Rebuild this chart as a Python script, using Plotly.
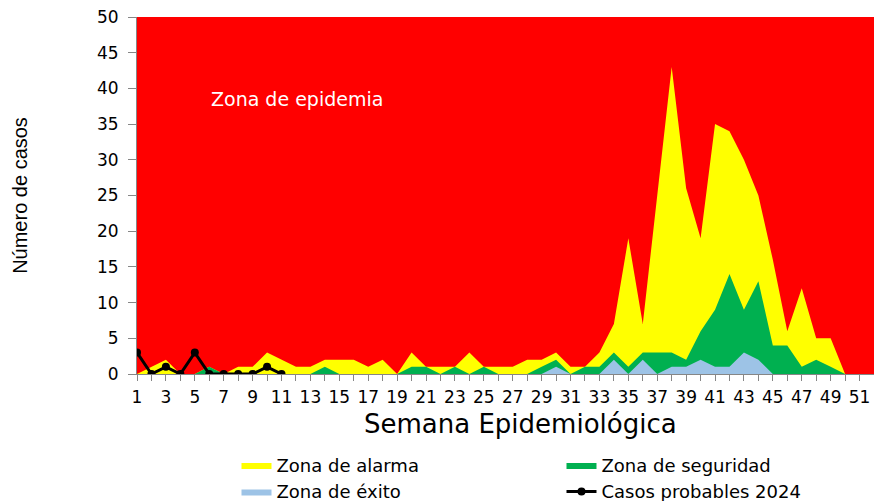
import plotly.graph_objects as go

weeks = list(range(1, 53))

epidemia = [50] * 52

alarma = [0, 1, 2, 0, 0, 1, 0, 1, 1, 3,
          2, 1, 1, 2, 2, 2, 1, 2, 0, 3,
          1, 1, 1, 3, 1, 1, 1, 2, 2, 3,
          1, 1, 3, 7, 19, 7, 25, 43, 26, 19,
          35, 34, 30, 25, 16, 6, 12, 5, 5, 0,
          0, 0]

seguridad = [0, 0, 0, 0, 0, 1, 0, 0, 0, 0,
             0, 0, 0, 1, 0, 0, 0, 0, 0, 1,
             1, 0, 1, 0, 1, 0, 0, 0, 1, 2,
             0, 1, 1, 3, 1, 3, 3, 3, 2, 6,
             9, 14, 9, 13, 4, 4, 1, 2, 1, 0,
             0, 0]

exito = [0, 0, 0, 0, 0, 0, 0, 0, 0, 0,
         0, 0, 0, 0, 0, 0, 0, 0, 0, 0,
         0, 0, 0, 0, 0, 0, 0, 0, 0, 1,
         0, 0, 0, 2, 0, 2, 0, 1, 1, 2,
         1, 1, 3, 2, 0, 0, 0, 0, 0, 0,
         0, 0]

casos_weeks = list(range(1, 12))
casos_2024 = [3, 0, 1, 0, 3, 0, 0, 0, 0, 1, 0]

x_ticks = list(range(1, 52, 2))
y_ticks = list(range(0, 51, 5))

fig = go.Figure()

fig.add_trace(go.Scatter(x=weeks, y=epidemia, mode="lines", fill="tozeroy",
                         fillcolor="#FF0000", line=dict(width=0, color="#FF0000"),
                         name="Zona de epidemia", showlegend=False, hoverinfo="skip"))
fig.add_trace(go.Scatter(x=weeks, y=alarma, mode="lines", fill="tozeroy",
                         fillcolor="#FFFF00", line=dict(width=0, color="#FFFF00"),
                         name="Zona de alarma"))
fig.add_trace(go.Scatter(x=weeks, y=seguridad, mode="lines", fill="tozeroy",
                         fillcolor="#00B050", line=dict(width=0, color="#00B050"),
                         name="Zona de seguridad"))
fig.add_trace(go.Scatter(x=weeks, y=exito, mode="lines", fill="tozeroy",
                         fillcolor="#9DC3E6", line=dict(width=0, color="#9DC3E6"),
                         name="Zona de éxito"))
fig.add_trace(go.Scatter(x=casos_weeks, y=casos_2024, mode="lines+markers",
                         line=dict(width=3, color="#000000"),
                         marker=dict(size=8, color="#000000"),
                         name="Casos probables 2024"))

fig.add_annotation(x=6.0, y=38.5, xref="x", yref="y", text="Zona de epidemia",
                   showarrow=False, xanchor="left", yanchor="middle",
                   font=dict(family="DejaVu Sans", size=19, color="#FFFFFF"))

# x-axis title (placed as in the reference, slightly right of plot centre)
fig.add_annotation(x=0.52, y=-0.14, xref="paper", yref="paper",
                   text="Semana Epidemiológica", showarrow=False,
                   xanchor="center", yanchor="middle",
                   font=dict(family="DejaVu Sans", size=26, color="#000000"))

fig.update_layout(
    width=874, height=501,
    margin=dict(l=137, r=0, t=17, b=127, autoexpand=False),
    paper_bgcolor="#FFFFFF", plot_bgcolor="#FFFFFF",
    font=dict(family="DejaVu Sans", color="#000000"),
    legend=dict(orientation="h", x=0.135, y=-0.204, xanchor="left", yanchor="top",
                entrywidth=280, entrywidthmode="pixels",
                font=dict(family="DejaVu Sans", size=18, color="#000000"),
                bgcolor="rgba(0,0,0,0)", tracegroupgap=0),
    xaxis=dict(range=[1, 52], tickvals=x_ticks, ticktext=[str(v) for v in x_ticks],
               ticks="outside", ticklen=6, tickcolor="#868686",
               minor=dict(tickvals=weeks, ticks="outside", ticklen=6, tickcolor="#868686"),
               showline=True, linecolor="#868686", linewidth=1,
               showgrid=False, zeroline=False,
               tickfont=dict(family="DejaVu Sans", size=17, color="#000000"),
               ticklabelstandoff=2),
    yaxis=dict(range=[0, 50], tickvals=y_ticks,
               ticks="outside", ticklen=8, tickcolor="#868686",
               showline=True, linecolor="#868686", linewidth=1,
               showgrid=False, zeroline=False,
               tickfont=dict(family="DejaVu Sans", size=17, color="#000000"),
               ticklabelstandoff=6,
               title=dict(text="Número de casos", standoff=63,
                          font=dict(family="Liberation Sans", size=20, color="#000000"))),
)

fig.write_html("out.html", config={"displayModeBar": False},
               post_script="document.body.style.margin='0';document.body.style.overflow='hidden';")
